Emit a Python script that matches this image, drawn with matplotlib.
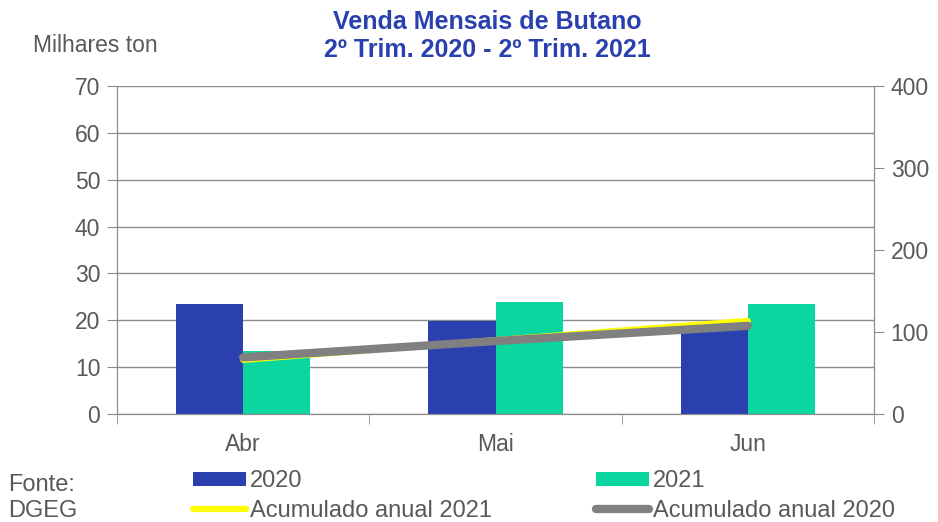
import matplotlib.pyplot as plt
import numpy as np

plt.rcParams['font.family'] = ['Liberation Sans', 'DejaVu Sans']

meses = ['Abr', 'Mai', 'Jun']
vendas_2020 = [23.4, 19.9, 18.5]
vendas_2021 = [13.4, 23.9, 23.4]
acum_2021 = [66, 90, 113.5]
acum_2020 = [69, 89, 107.5]

cinza = '#595959'
azul = '#2A40AE'
verde = '#0CD6A0'

fig = plt.figure(figsize=[9.38, 5.22], dpi=100)
ax = fig.add_axes([117 / 938, 1 - 414 / 522, 757 / 938, 328 / 522])
ax2 = ax.twinx()

x = np.arange(len(meses))
w = 0.266
b1 = ax.bar(x - w / 2, vendas_2020, w, color=azul, label='2020', zorder=3)
b2 = ax.bar(x + w / 2, vendas_2021, w, color=verde, label='2021', zorder=3)

l1, = ax2.plot(x, acum_2021, color='#FFFF00', lw=4.5, solid_capstyle='round', label='Acumulado anual 2021', zorder=4)
l2, = ax2.plot(x, acum_2020, color='#808080', lw=6, solid_capstyle='round', label='Acumulado anual 2020', zorder=5)

ax.set_xlim(-0.5, 2.5)
ax.set_ylim(0, 70)
ax.set_yticks(range(0, 71, 10))
ax2.set_ylim(0, 400)
ax2.set_yticks(range(0, 401, 100))
ax.yaxis.grid(True, color='#8C8C8C', lw=1, zorder=0)
ax.set_axisbelow(True)

ax.set_xticks(x)
ax.set_xticklabels(meses)
ax.set_xticks([-0.5, 0.5, 1.5, 2.5], minor=True)
ax.tick_params(axis='x', which='major', length=0, pad=14, labelsize=16.5, labelcolor=cinza)
ax.tick_params(axis='x', which='minor', length=7, color='#8C8C8C', direction='out')
ax.tick_params(axis='y', length=7, color='#8C8C8C', labelsize=16.5, labelcolor=cinza, pad=5)
ax2.tick_params(axis='y', length=7, color='#8C8C8C', labelsize=16.5, labelcolor=cinza, pad=5)

for a in (ax, ax2):
    a.spines['top'].set_visible(False)
    for s in ('left', 'right', 'bottom'):
        a.spines[s].set_color('#8C8C8C')

fig.text(487 / 938, 1 - 36 / 522, 'Venda Mensais de Butano\n2º Trim. 2020 - 2º Trim. 2021', ha='center', va='center',
         color=azul, fontsize=18, fontweight='bold', linespacing=1.2)
fig.text(33 / 938, 1 - 46 / 522, 'Milhares ton', color=cinza, fontsize=16.5, va='center')
fig.text(8 / 938, 1 - 485 / 522, 'Fonte:', color=cinza, fontsize=17, va='center')
fig.text(8 / 938, 1 - 511 / 522, 'DGEG', color=cinza, fontsize=17, va='center')

fig.legend([b1, l1, b2, l2], ['2020', 'Acumulado anual 2021', '2021', 'Acumulado anual 2020'],
           ncol=2, loc='center left', bbox_to_anchor=(193 / 938, 1 - 496 / 522), frameon=False,
           fontsize=17, labelcolor=cinza, handlelength=2.25, handleheight=0.55, handletextpad=0.17,
           columnspacing=4.4, labelspacing=0.32, borderpad=0, borderaxespad=0)

fig.savefig('out.png', dpi=100)
